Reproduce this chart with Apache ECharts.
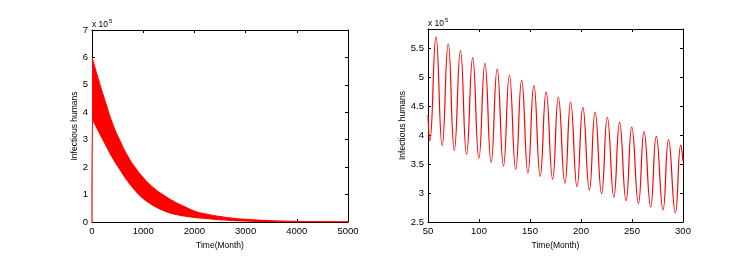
<!DOCTYPE html>
<html>
<head>
<meta charset="utf-8">
<script src="https://cdn.jsdelivr.net/npm/echarts@6/dist/echarts.min.js"></script>
<style>
html,body{margin:0;padding:0;background:#fff;}
#c{width:731px;height:257px;}
</style>
</head>
<body>
<div id="c"></div>
<script>
// Left panel: envelopes of the dense oscillation band (x 10^5)
const leftUpperTime = [0, 150, 250, 400, 550, 700, 850, 1000, 1200, 1400, 1600, 1800, 2000, 2250, 2500, 2750, 3000, 3500, 4000, 4500, 5000];
const leftUpperVal  = [6.02, 5.05, 4.45, 3.6, 2.95, 2.4, 1.97, 1.62, 1.25, 0.98, 0.75, 0.57, 0.4, 0.28, 0.2, 0.14, 0.1, 0.05, 0.025, 0.012, 0.006];
const leftLowerTime = [0, 10, 100, 200, 300, 400, 500, 650, 800, 950, 1100, 1300, 1525, 1800, 2000, 2500, 3000, 3500, 4000, 5000];
const leftLowerVal  = [0, 3.75, 3.42, 3.05, 2.7, 2.35, 2.05, 1.62, 1.25, 0.95, 0.72, 0.5, 0.33, 0.22, 0.17, 0.09, 0.04, 0.015, 0.007, 0.002];
const leftXTicks = [0, 1000, 2000, 3000, 4000, 5000];
const leftYTicks = [0, 1, 2, 3, 4, 5, 6, 7];

// Right panel: oscillation, peaks and troughs (x 10^5)
const rightTime = [50, 51.8, 57.8, 63.9, 69.8, 75.8, 81.8, 87.8, 93.8, 99.9, 105.8, 111.9, 117.8, 124.0, 129.8, 136.0, 141.8, 148.0, 153.8, 160.0, 165.8, 172.2, 177.8, 184.2, 189.8, 196.1, 201.8, 208.2, 213.8, 220.2, 225.8, 232.2, 237.8, 244.2, 249.8, 256.3, 261.8, 268.3, 273.8, 280.4, 285.8, 292.5, 297.8, 300];
const rightVal  = [4.35, 3.90, 5.70, 3.82, 5.58, 3.74, 5.46, 3.67, 5.34, 3.60, 5.24, 3.53, 5.14, 3.47, 5.04, 3.41, 4.95, 3.35, 4.86, 3.29, 4.75, 3.24, 4.66, 3.17, 4.57, 3.11, 4.48, 3.05, 4.40, 2.99, 4.31, 2.93, 4.22, 2.87, 4.14, 2.82, 4.06, 2.76, 3.98, 2.71, 3.92, 2.66, 3.83, 3.55];
const rightXTicks = [50, 100, 150, 200, 250, 300];
const rightYTicks = [2.5, 3, 3.5, 4, 4.5, 5, 5.5];

const FONT = 'Liberation Sans';
const pair = (xs, ys) => xs.map((x, i) => [x, ys[i]]);

const axisBase = {
  axisLine: {show: true, onZero: false, lineStyle: {color: '#000', width: 1}},
  axisTick: {show: true, inside: true, length: 3, lineStyle: {color: '#000'}},
  splitLine: {show: false}
};
const labelStyle = {color: '#000', fontFamily: FONT, fontSize: 9.5, margin: 4, formatter: v => String(v)};
const nameStyle = {color: '#000', fontFamily: FONT, fontSize: 8.5};

function xAxisPair(grid, ticks, name, gap) {
  const min = ticks[0], max = ticks[ticks.length - 1], interval = ticks[1] - ticks[0];
  return [
    Object.assign({}, axisBase, {type: 'value', gridIndex: grid, position: 'bottom', min, max, interval,
      axisLabel: labelStyle, name, nameLocation: 'middle', nameGap: gap, nameTextStyle: nameStyle}),
    Object.assign({}, axisBase, {type: 'value', gridIndex: grid, position: 'top', min, max, interval,
      axisLabel: {show: false}})
  ];
}
function yAxisPair(grid, ticks, max, name, gap, hideMax) {
  const min = ticks[0], interval = ticks[1] - ticks[0];
  return [
    Object.assign({}, axisBase, {type: 'value', gridIndex: grid, position: 'left', min, max, interval,
      axisLabel: Object.assign({}, labelStyle, {showMaxLabel: !hideMax}),
      name, nameLocation: 'middle', nameGap: gap, nameTextStyle: nameStyle}),
    Object.assign({}, axisBase, {type: 'value', gridIndex: grid, position: 'right', min, max, interval,
      axisLabel: {show: false}})
  ];
}

const scaleText = {
  type: 'text',
  style: {
    text: '{a|x 10}{b|5}',
    rich: {
      a: {fontFamily: FONT, fontSize: 8.5, fill: '#000', verticalAlign: 'bottom'},
      b: {fontFamily: FONT, fontSize: 6, fill: '#000', verticalAlign: 'top', padding: [0, 0, 5, 1]}
    }
  }
};

const chart = echarts.init(document.getElementById('c'));
chart.setOption({
  animation: false,
  backgroundColor: '#fff',
  grid: [
    {left: 92, top: 30, width: 256, height: 192},
    {left: 428, top: 29, width: 255, height: 193}
  ],
  xAxis: [].concat(
    xAxisPair(0, leftXTicks, 'Time(Month)', 11),
    xAxisPair(1, rightXTicks, 'Time(Month)', 11)
  ),
  yAxis: [].concat(
    yAxisPair(0, leftYTicks, 7, 'Infectious humans', 9, false),
    yAxisPair(1, rightYTicks, 5.835, 'Infectious humans', 19, true)
  ),
  graphic: [
    Object.assign({left: 92, top: 18}, scaleText),
    Object.assign({left: 428, top: 17}, scaleText)
  ],
  series: [
    {
      type: 'line', xAxisIndex: 0, yAxisIndex: 0, data: pair(leftUpperTime, leftUpperVal),
      showSymbol: false, smooth: 0.5,
      lineStyle: {color: '#ff0000', width: 1}, areaStyle: {color: '#ff0000', opacity: 1}, z: 2
    },
    {
      type: 'line', xAxisIndex: 0, yAxisIndex: 0, data: pair(leftLowerTime, leftLowerVal),
      showSymbol: false, smooth: 0.5,
      lineStyle: {color: '#ff0000', width: 1.2}, areaStyle: {color: '#ffffff', opacity: 1}, z: 3
    },
    {
      type: 'line', xAxisIndex: 2, yAxisIndex: 2, data: pair(rightTime, rightVal),
      showSymbol: false, smooth: 0.5,
      lineStyle: {color: '#ff0000', width: 1.2}
    }
  ]
});
</script>
</body>
</html>
